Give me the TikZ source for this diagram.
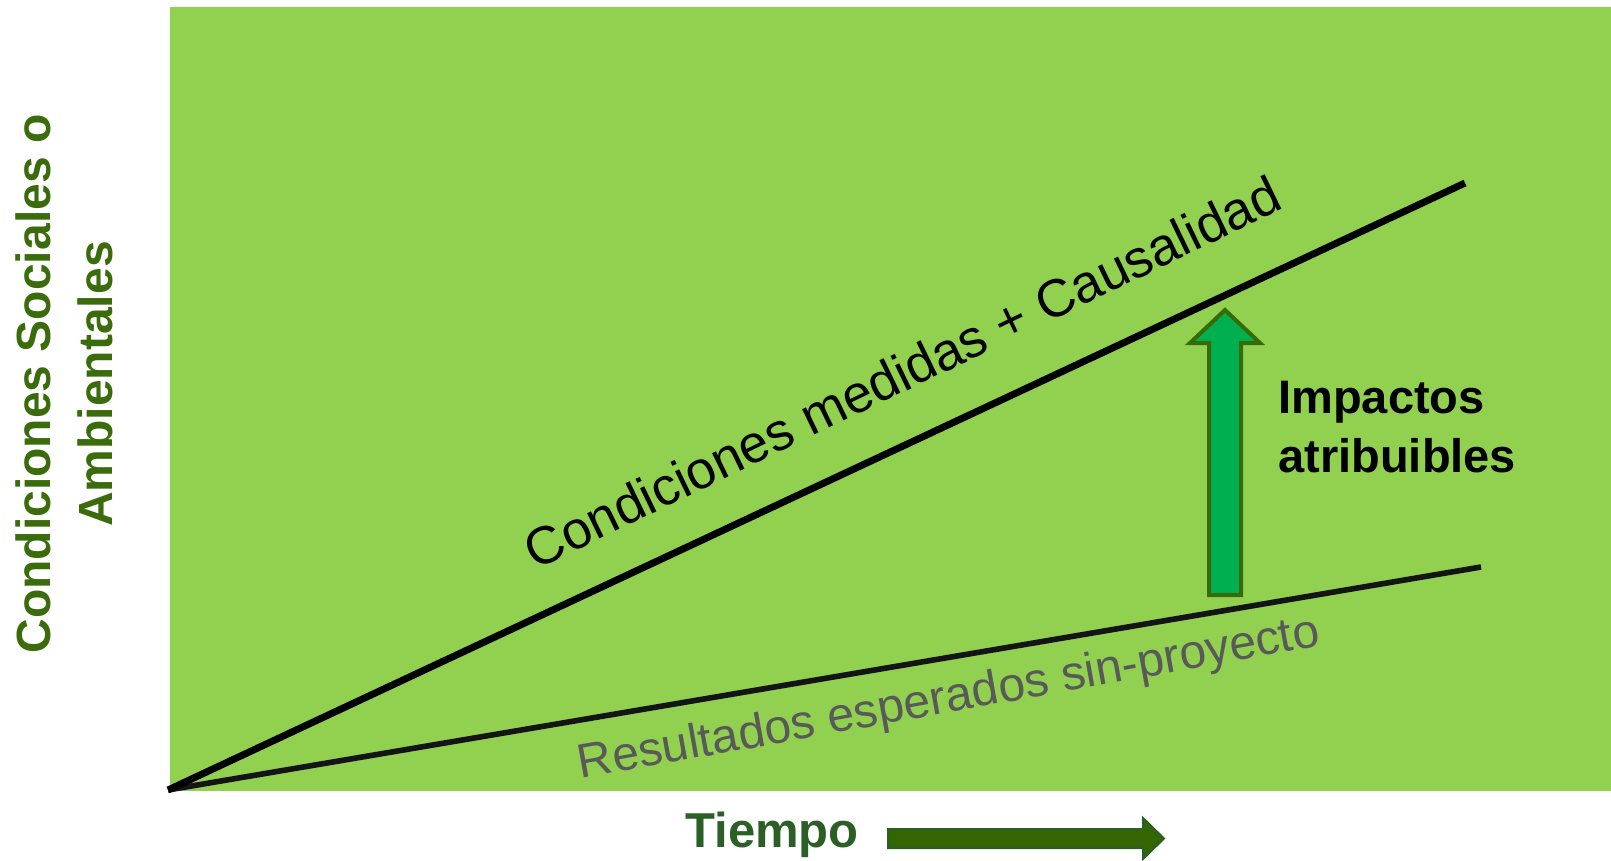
\documentclass[tikz,border=0pt]{standalone}
\usepackage{fontspec}
\setmainfont{Liberation Sans}
\definecolor{bggreen}{HTML}{92D050}
\definecolor{arrowgreen}{HTML}{00B050}
\definecolor{arrowedge}{HTML}{376B06}
\definecolor{axisgreen}{HTML}{3A6C0C}
\definecolor{timegreen}{HTML}{2B5F26}
\definecolor{timefill}{HTML}{336600}
\definecolor{greytext}{HTML}{595959}
\begin{document}
\begin{tikzpicture}[x=0.5pt,y=-0.5pt,
  axislabel/.style={font=\fontsize{24pt}{31pt}\selectfont\bfseries, text=axisgreen, align=center, inner sep=0pt},
  timelabel/.style={font=\fontsize{24.5pt}{29pt}\selectfont\bfseries, text=timegreen, inner sep=0pt},
  linelabel/.style={font=\fontsize{26.5pt}{30pt}\selectfont, inner sep=0pt},
  impactlabel/.style={font=\fontsize{23.5pt}{29.5pt}\selectfont\bfseries, align=left, inner sep=0pt},
  trendline/.style={line width=3.5pt, line cap=butt},
  baseline/.style={line width=2.8pt, draw=black!92, line cap=butt},
  bigarrow/.style={fill=arrowgreen, draw=arrowedge, line width=2pt, line join=miter},
  timearrow/.style={fill=timefill, draw=timegreen, line width=1pt, line join=miter}]
\useasboundingbox (0,0) rectangle (1611,861);
% background panel
\fill[bggreen] (170,7) rectangle (1611,791);
% coordinates
\coordinate (O) at (168,790);
\coordinate (A) at (1465,183);
\coordinate (B) at (1481,567);
% lines
\draw[baseline] (O) -- (B);
\draw[trendline] (O) -- (A);
% attributable impact arrow
\draw[bigarrow] (1225,310) -- (1260,343) -- (1241,343) -- (1241,595) -- (1209,595) -- (1209,343) -- (1190,343) -- cycle;
% time arrow
\draw[timearrow] (888,829) -- (1143,829) -- (1143,818) -- (1164,838.5) -- (1143,859) -- (1143,848) -- (888,848) -- cycle;
% labels
\node[linelabel, rotate=25.8] (upper) at (902,372) {Condiciones medidas + Causalidad};
\node[linelabel, text=greytext, font=\fontsize{24pt}{28pt}\selectfont, rotate=10.2] (lower) at (949,700) {Resultados esperados sin-proyecto};
\node[impactlabel, anchor=north west] (impact) at (1278,381) {Impactos\\atribuibles};
\node[axislabel, rotate=90] (ylab) at (64,384) {Condiciones Sociales o\\Ambientales};
\node[timelabel, anchor=base west] (time) at (685,847) {Tiempo};
\end{tikzpicture}
\end{document}
